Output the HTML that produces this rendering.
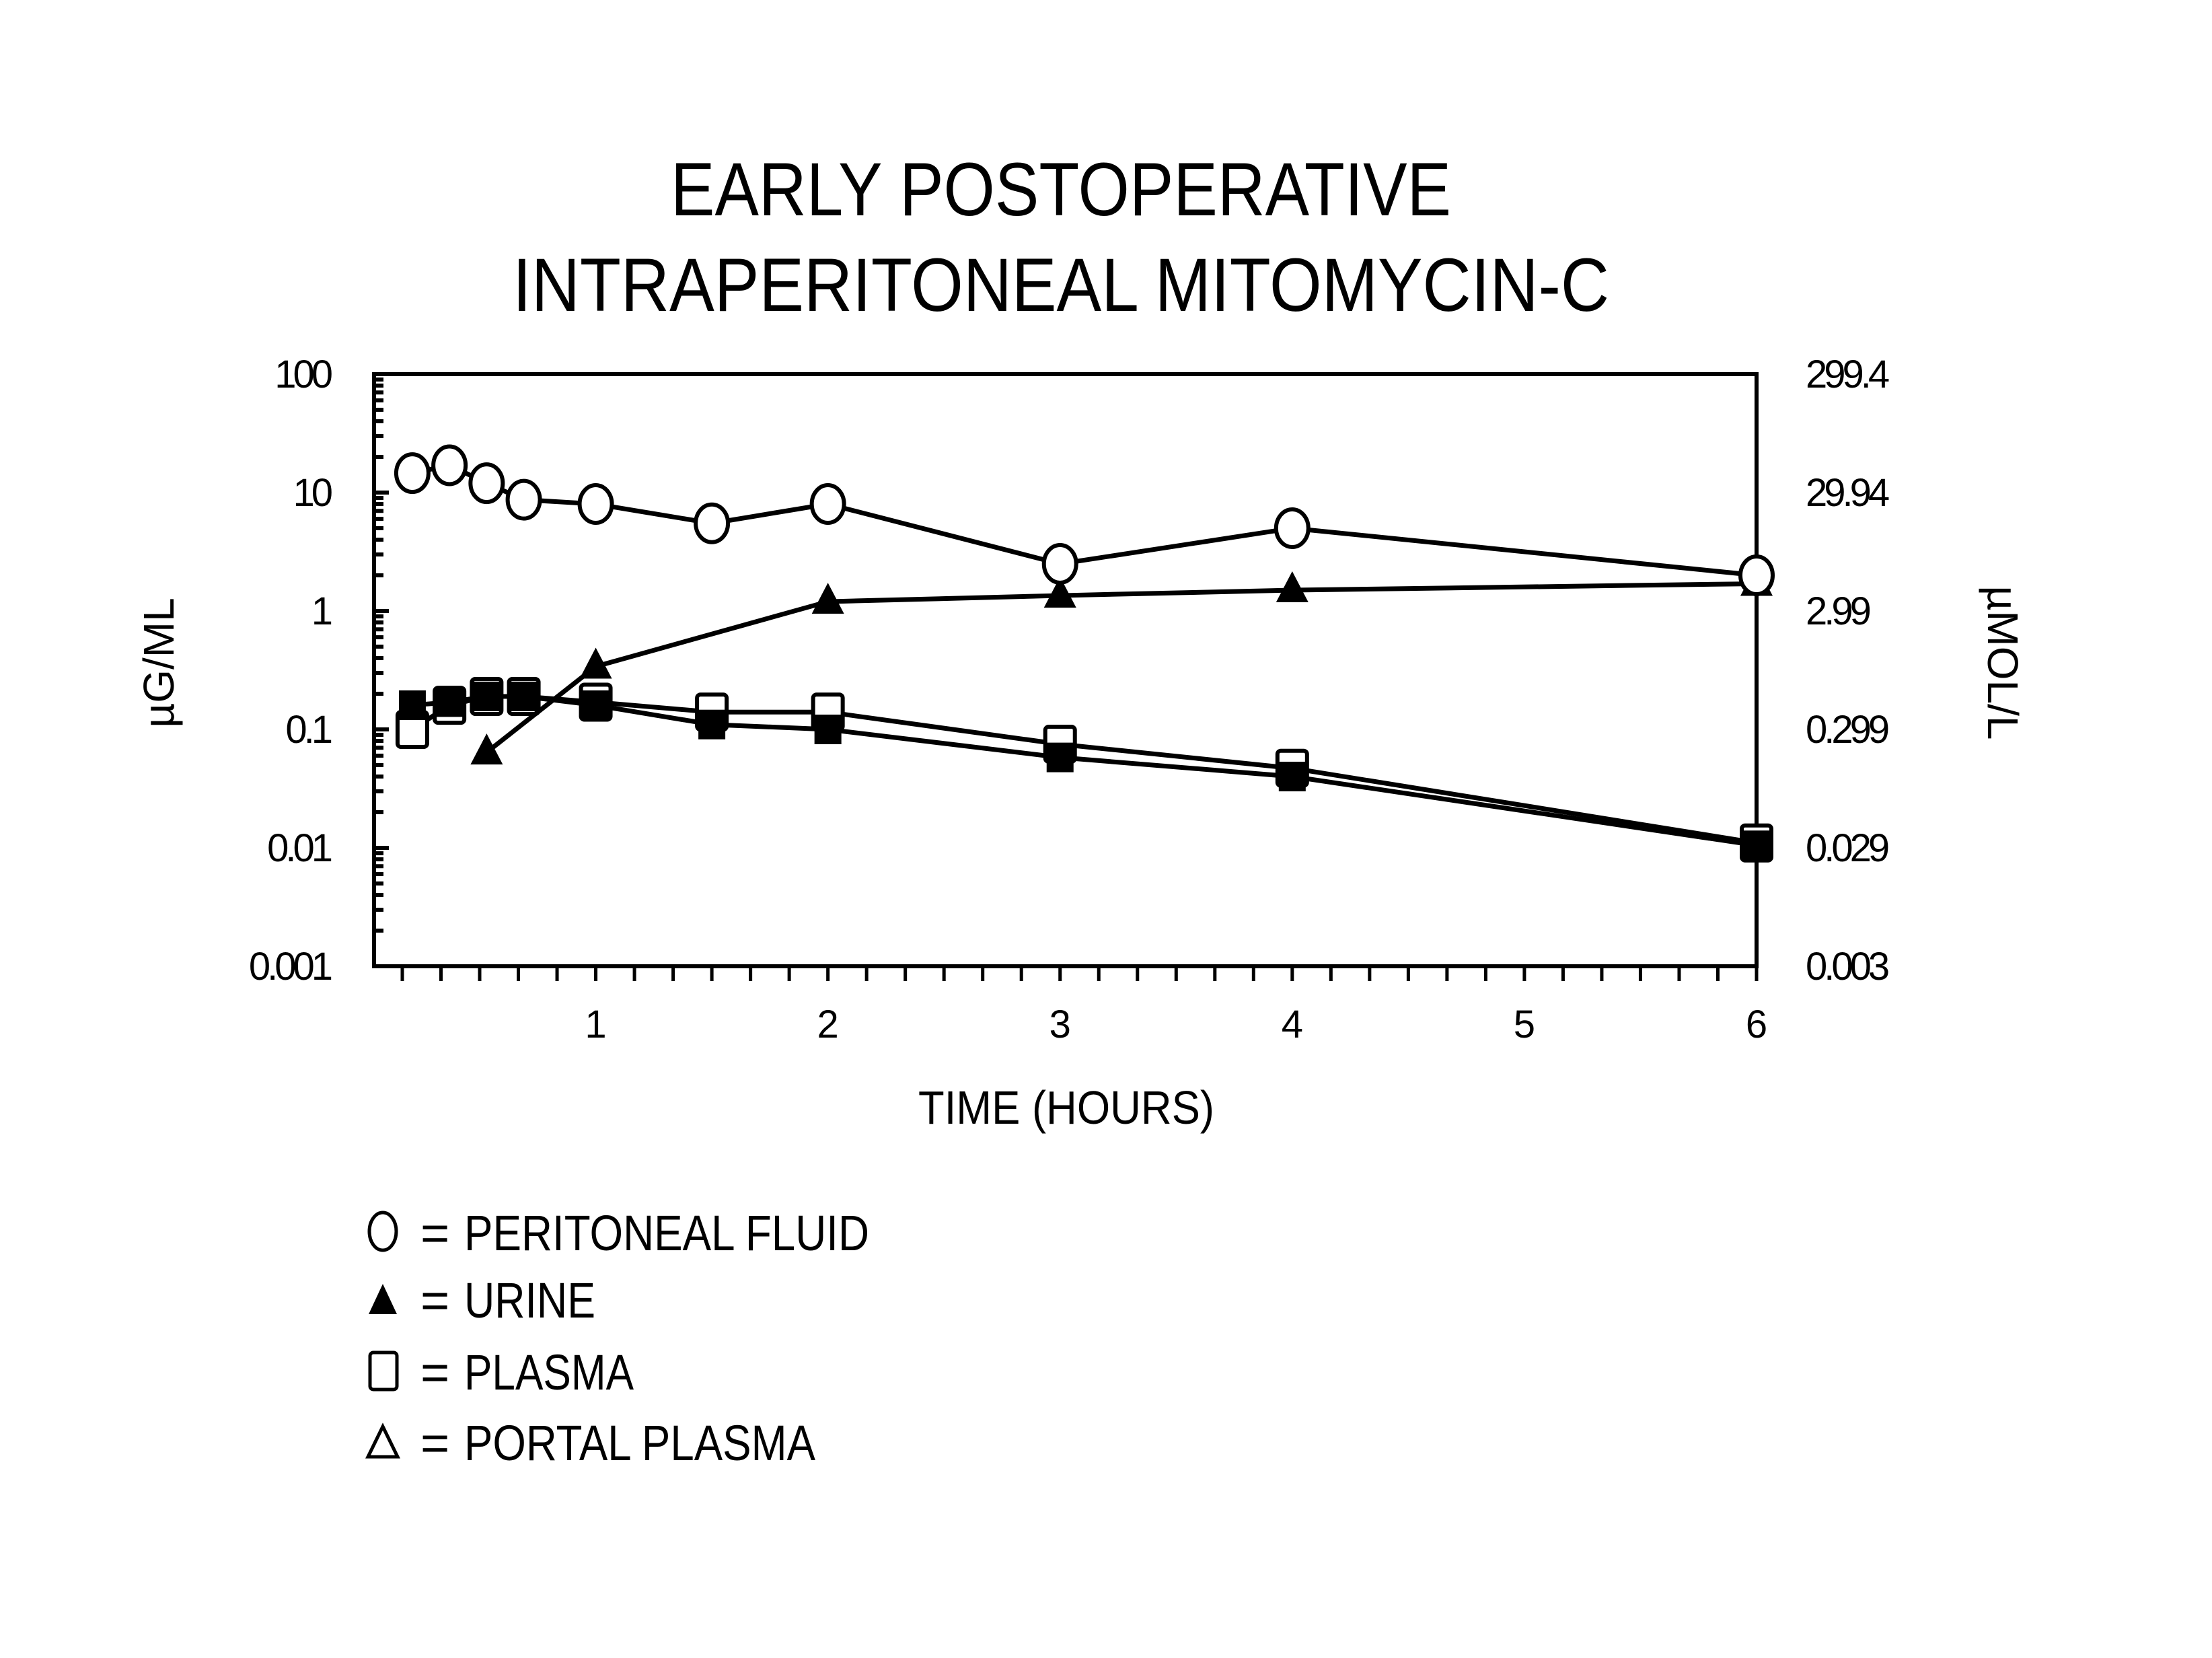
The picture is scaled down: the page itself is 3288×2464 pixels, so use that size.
<!DOCTYPE html>
<html><head><meta charset="utf-8"><style>
html,body{margin:0;padding:0;background:#fff}
svg{display:block}
text{font-family:"Liberation Sans",sans-serif;fill:#000;font-weight:bold}
</style></head><body>
<svg id="chart" width="3288" height="2464" viewBox="0 0 3288 2464" xmlns="http://www.w3.org/2000/svg">
<g>
<text x="1577" y="320" font-size="112" text-anchor="middle" textLength="1160" lengthAdjust="spacingAndGlyphs" style="font-weight:normal">EARLY POSTOPERATIVE</text>
<text x="1577" y="462" font-size="112" text-anchor="middle" textLength="1630" lengthAdjust="spacingAndGlyphs" style="font-weight:normal">INTRAPERITONEAL MITOMYCIN-C</text>
</g>
<g id="axes"></g>
<g id="marks"></g>
<text transform="translate(258,985) rotate(-90)" font-size="64" text-anchor="middle" style="font-weight:normal">µG/ML</text>
<text transform="translate(2955,985) rotate(90)" font-size="64" text-anchor="middle" style="font-weight:normal">µMOL/L</text>
<text x="1585" y="1670" font-size="70" text-anchor="middle" textLength="440" lengthAdjust="spacingAndGlyphs" style="font-weight:normal">TIME (HOURS)</text>
<g>
<g>
<ellipse cx="569" cy="1830" rx="20" ry="28" fill="none" stroke="#000" stroke-width="5"/>
<text x="625" y="1858" font-size="74" style="font-weight:normal">=</text>
<text x="690" y="1858" font-size="74" textLength="602" lengthAdjust="spacingAndGlyphs" style="font-weight:normal">PERITONEAL FLUID</text></g>
<g>
<polygon points="569,1908 548,1953 590,1953" fill="#000"/>
<text x="625" y="1958" font-size="74" style="font-weight:normal">=</text>
<text x="690" y="1958" font-size="74" textLength="195" lengthAdjust="spacingAndGlyphs" style="font-weight:normal">URINE</text></g>
<g>
<rect x="550" y="2010" width="40" height="55" rx="5" fill="none" stroke="#000" stroke-width="5"/>
<text x="625" y="2065" font-size="74" style="font-weight:normal">=</text>
<text x="690" y="2065" font-size="74" textLength="252" lengthAdjust="spacingAndGlyphs" style="font-weight:normal">PLASMA</text></g>
<g>
<polygon points="569,2120 547,2165 591,2165" fill="none" stroke="#000" stroke-width="5"/>
<text x="625" y="2170" font-size="74" style="font-weight:normal">=</text>
<text x="690" y="2170" font-size="74" textLength="522" lengthAdjust="spacingAndGlyphs" style="font-weight:normal">PORTAL PLASMA</text></g>
</g>
</svg>
<script>
const xTicks=[1,2,3,4,5,6];
const yTickValues=[100,10,1,0.1,0.01,0.001];
const yTickLabels=["100","10","1","0.1","0.01","0.001"];
const y2TickLabels=["299.4","29.94","2.99","0.299","0.029","0.003"];
const peritonealX=[0.21,0.37,0.53,0.69,1,1.5,2,3,4,6];
const peritonealY=[14.6,17,12,8.7,8,5.5,8,2.5,5,2];
const urineX=[0.53,1,2,3,4,6];
const urineY=[0.064,0.34,1.2,1.35,1.5,1.7];
const plasmaX=[0.21,0.37,0.53,0.69,1,1.5,2,3,4,6];
const plasmaY=[0.1,0.16,0.19,0.19,0.17,0.14,0.14,0.075,0.047,0.011];
const portalX=[0.21,0.37,0.53,0.69,1,1.5,2,3,4,6];
const portalY=[0.16,0.17,0.19,0.19,0.16,0.11,0.1,0.058,0.04,0.0105];

const L=556,R=2611,T=556,B=1436,XMIN=0.045,XMAX=6,YMIN=-3,YMAX=2;
const sx=v=>L+(v-XMIN)/(XMAX-XMIN)*(R-L);
const sy=v=>B-(Math.log10(v)-YMIN)/(YMAX-YMIN)*(B-T);
const NS="http://www.w3.org/2000/svg";
function mk(tag,attrs,parent){const e=document.createElementNS(NS,tag);for(const k in attrs)e.setAttribute(k,attrs[k]);parent.appendChild(e);return e;}
const ax=document.getElementById('axes'),mg=document.getElementById('marks');

const frame=mk('rect',{x:L,y:T,width:R-L,height:B-T,fill:'none',stroke:'#000','stroke-width':6},ax);


// left minor log ticks
for(let d=YMIN;d<YMAX;d++){for(let m=1;m<10;m++){const y=sy(m*Math.pow(10,d));
const t=mk('line',{x1:L,x2:L+(m===1?22:14),y1:y,y2:y,stroke:'#000','stroke-width':6},ax);

}}
// bottom ticks every 1/6 hour
for(let k=0;k<=36;k++){const v=k/6;if(v<XMIN-0.01)continue;const x=sx(Math.max(v,XMIN));
const t=mk('line',{x1:x,x2:x,y1:B,y2:B+22,stroke:'#000','stroke-width':5},ax);

}
xTicks.forEach(v=>{const t=mk('text',{x:sx(v),y:1542,'font-size':58,'text-anchor':'middle',style:'font-weight:normal'},ax);t.textContent=v;

});
yTickValues.forEach((v,i)=>{const t=mk('text',{x:490,y:sy(v)+20,'font-size':58,'text-anchor':'end',style:'font-weight:normal;letter-spacing:-5px'},ax);t.textContent=yTickLabels[i];


const t2=mk('text',{x:2684,y:sy(v)+20,'font-size':58,style:'font-weight:normal;letter-spacing:-5px'},ax);t2.textContent=y2TickLabels[i];

});

function series(xs,ys,name,marker){
 const pts=xs.map((x,i)=>sx(x)+','+sy(ys[i])).join(' ');
 const pl=mk('polyline',{points:pts,fill:'none',stroke:'#000','stroke-width':7},mg);
 
 
 xs.forEach((x,i)=>{const cx=sx(x),cy=sy(ys[i]);let e;
  if(marker==='circle')e=mk('ellipse',{cx,cy,rx:24,ry:28,fill:'#fff',stroke:'#000','stroke-width':6},mg);
  else if(marker==='tri')e=mk('polygon',{points:`${cx},${cy-28} ${cx-24},${cy+18} ${cx+24},${cy+18}`,fill:'#000'},mg);
  else if(marker==='square')e=mk('rect',{x:cx-22,y:cy-26,width:44,height:52,rx:5,fill:'#fff',stroke:'#000','stroke-width':6},mg);
  else e=mk('rect',{x:cx-20,y:cy-22,width:40,height:44,fill:'#000'},mg);
  
  });
}
series(plasmaX,plasmaY,'plasma','square');
series(portalX,portalY,'portal-plasma','filled');
series(urineX,urineY,'urine','tri');
series(peritonealX,peritonealY,'peritoneal-fluid','circle');
</script>
</body></html>
